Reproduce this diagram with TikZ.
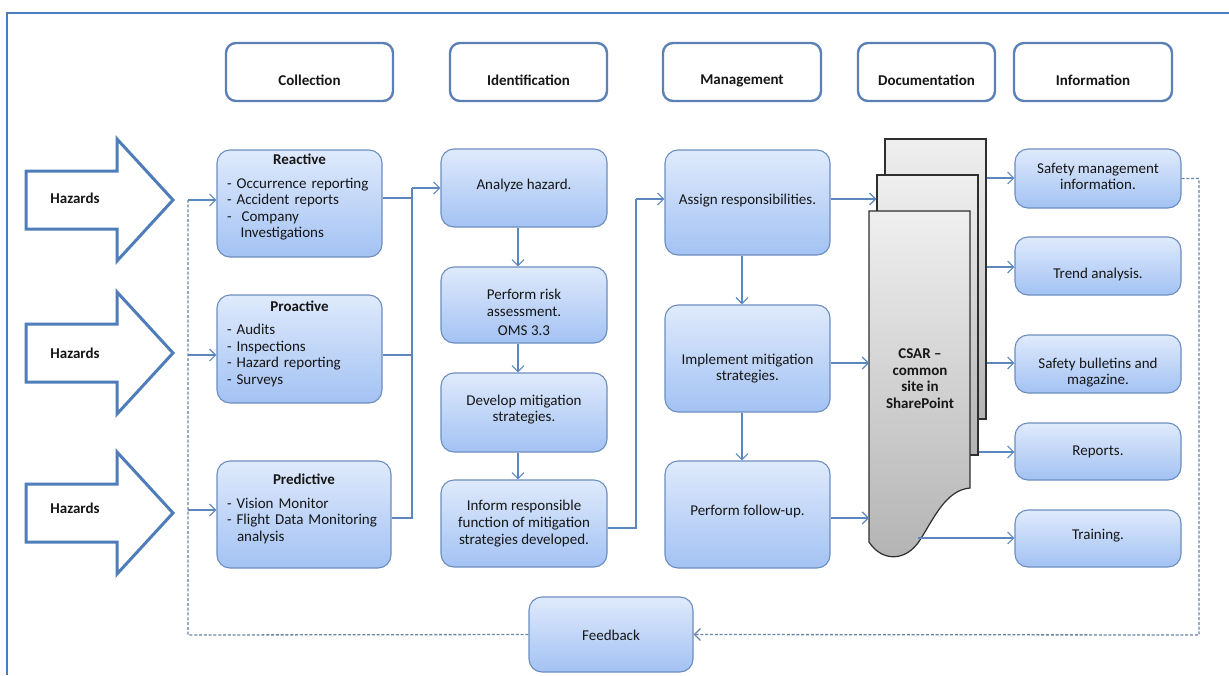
\documentclass[tikz,border=0pt]{standalone}
\usepackage{fontspec}
\setmainfont{Carlito}
\usetikzlibrary{arrows.meta}
\definecolor{framec}{HTML}{4A7CC0}
\definecolor{hdrblue}{HTML}{5A80B5}
\definecolor{arrblue}{HTML}{4E7DBA}
\definecolor{boxedge}{HTML}{6C8EBF}
\definecolor{boxtop}{HTML}{DFEAFC}
\definecolor{boxbot}{HTML}{A3C2F3}
\definecolor{connc}{HTML}{5B87BE}
\definecolor{dashc}{HTML}{6E84A3}
\definecolor{docedge}{HTML}{2E2E2E}
\definecolor{doctop}{HTML}{EFEFEF}
\definecolor{docbot}{HTML}{B3B3B3}
\definecolor{txt}{HTML}{161616}
\begin{document}
\begin{tikzpicture}[x=1pt,y=-1pt,
  fnt/.style={font=\fontsize{15}{16.6}\selectfont},
  bfnt/.style={font=\fontsize{15}{16.6}\selectfont\bfseries},
  hdr/.style={draw=hdrblue, line width=2.4pt, rounded corners=10pt, fill=white, inner sep=0pt, minimum height=58pt},
  bluebox/.style={draw=boxedge, line width=1.1pt, rounded corners=13pt, top color=boxtop, bottom color=boxbot, inner sep=0pt},
  txtnode/.style={fnt, text=txt, align=center, inner sep=0pt},
  btxt/.style={bfnt, text=txt, align=center, inner sep=0pt},
  hazard/.style={draw=arrblue, line width=3pt, fill=white, line join=miter},
  docsheet/.style={draw=docedge, line width=1.2pt, top color=doctop, bottom color=docbot, inner sep=0pt},
  conn/.style={draw=connc, line width=1.2pt},
  arr/.style={conn, -{Straight Barb[length=6pt,width=12pt]}},
  fb/.style={draw=dashc, line width=1.3pt, dash pattern=on 3pt off 1.8pt},
]
\useasboundingbox (0,0) rectangle (1229,675);
\fill[white] (0,0) rectangle (1229,675);
% frame
\draw[framec, line width=2pt] (7,675) -- (7,13) -- (1229,13);

% headers
\node[hdr, minimum width=167pt] (hcol) at (309.5,72) {};
\node[hdr, minimum width=157pt] (hide) at (528.5,72) {};
\node[hdr, minimum width=158pt] (hman) at (742,72) {};
\node[hdr, minimum width=137pt] (hdoc) at (926.5,72) {};
\node[hdr, minimum width=158pt] (hinf) at (1093,72) {};
\node[btxt] (hcol-t) at (309.5,80.5) {Collection};
\node[btxt] (hide-t) at (528.5,80.5) {Identification};
\node[btxt] (hman-t) at (742,80.5) {Management};
\node[btxt] (hdoc-t) at (926.5,80.5) {Documentation};
\node[btxt] (hinf-t) at (1093,80.5) {Information};

% hazard arrows
\draw[hazard] (26,171) -- (117,171) -- (117,139) -- (173,200) -- (117,261) -- (117,229) -- (26,229) -- cycle;
\draw[hazard] (26,324) -- (117,324) -- (117,292) -- (173,353) -- (117,414) -- (117,382) -- (26,382) -- cycle;
\draw[hazard] (26,484) -- (117,484) -- (117,452) -- (173,513) -- (117,574) -- (117,542) -- (26,542) -- cycle;
\node[btxt] (hz1) at (75,198.5) {Hazards};
\node[btxt] (hz2) at (75,353.5) {Hazards};
\node[btxt] (hz3) at (75,508.5) {Hazards};

% collection boxes
\node[bluebox, minimum width=165pt, minimum height=107pt] (reactive) at (299.5,203.5) {};
\node[bluebox, minimum width=165pt, minimum height=108pt] (proactive) at (299.5,349) {};
\node[bluebox, minimum width=174pt, minimum height=107pt] (predictive) at (304,514.5) {};
\node[txtnode, text width=145pt, align=left] (reactive-t) at (299.5,197.3)
  {\makebox[145pt]{\textbf{Reactive}}\\[7pt]- Occurrence reporting\\- Accident reports\\-\ \ Company\\\hspace*{13.5pt}Investigations};
\node[txtnode, text width=145pt, align=left] (proactive-t) at (299.5,343.8)
  {\makebox[145pt]{\textbf{Proactive}}\\[7pt]- Audits\\- Inspections\\- Hazard reporting\\- Surveys};
\node[txtnode, text width=154pt, align=left] (predictive-t) at (304,508.8)
  {\makebox[154pt]{\textbf{Predictive}}\\[7pt]- Vision Monitor\\- Flight Data Monitoring\\\hspace*{10pt}analysis};

% identification boxes
\node[bluebox, minimum width=166pt, minimum height=78pt] (analyze) at (524,188) {};
\node[bluebox, minimum width=166pt, minimum height=76pt] (risk) at (524,305) {};
\node[bluebox, minimum width=166pt, minimum height=79pt] (develop) at (524,412.5) {};
\node[bluebox, minimum width=166pt, minimum height=87pt] (inform) at (524,523.5) {};
\node[txtnode] (analyze-t) at (524,185.5) {Analyze hazard.};
\node[txtnode] (risk-t) at (524,312.5) {Perform risk\\assessment.\\[3pt]OMS 3.3};
\node[txtnode] (develop-t) at (524,409.5) {Develop mitigation\\strategies.};
\node[txtnode] (inform-t) at (524,523.5) {Inform responsible\\function of mitigation\\strategies developed.};

% management boxes
\node[bluebox, minimum width=165pt, minimum height=105pt] (assign) at (747.5,202.5) {};
\node[bluebox, minimum width=165pt, minimum height=107pt] (implement) at (747.5,358.5) {};
\node[bluebox, minimum width=165pt, minimum height=107pt] (followup) at (747.5,514.5) {};
\node[txtnode] (assign-t) at (747.5,200.5) {Assign responsibilities.};
\node[txtnode] (implement-t) at (747.5,368.5) {Implement mitigation\\strategies.};
\node[txtnode] (followup-t) at (747.5,511) {Perform follow-up.};

% information boxes
\node[bluebox, minimum width=166pt, minimum height=59pt] (info1) at (1098,178.5) {};
\node[bluebox, minimum width=166pt, minimum height=58pt] (info2) at (1098,266) {};
\node[bluebox, minimum width=166pt, minimum height=58pt] (info3) at (1098,364) {};
\node[bluebox, minimum width=166pt, minimum height=57pt] (info4) at (1098,451.5) {};
\node[bluebox, minimum width=166pt, minimum height=57pt] (info5) at (1098,538.5) {};
\node[txtnode] (info1-t) at (1098,176.5) {Safety management\\information.};
\node[txtnode] (info2-t) at (1098,274.5) {Trend analysis.};
\node[txtnode] (info3-t) at (1098,372.5) {Safety bulletins and\\magazine.};
\node[txtnode] (info4-t) at (1098,451.5) {Reports.};
\node[txtnode] (info5-t) at (1098,535.5) {Training.};

% feedback
\node[bluebox, minimum width=164pt, minimum height=75pt] (feedback) at (611,634.5) {};
\node[txtnode] (feedback-t) at (611,635.5) {Feedback};

% documents
\node[docsheet, minimum width=101pt, minimum height=280pt] (doc1) at (935.5,279) {};
\node[docsheet, minimum width=101pt, minimum height=280pt] (doc2) at (927.5,315) {};
\path[docsheet] (869,211) -- (970,211) -- (970,488)
  .. controls (946,490) and (934,518) .. (920,540)
  .. controls (906,562) and (882,562) .. (869,542) -- cycle;
\node[btxt] (csar) at (920,378.5) {CSAR --\\common\\site in\\SharePoint};
\coordinate (fl1) at (869,363);
\coordinate (fl2) at (869,518);
\coordinate (fw) at (918,538);

% collection -> identification
\coordinate (busT) at (412,188);
\draw[conn] (reactive.east |- 0,198) -| (busT);
\draw[conn] (proactive.east |- 0,355) -| (busT);
\draw[conn] (predictive.east |- 0,518) -| (busT);
\draw[arr] (busT) -- (analyze.west);
% identification chain
\draw[arr] ([xshift=-6pt]analyze.south) -- ([xshift=-6pt]risk.north);
\draw[arr] ([xshift=-6pt]risk.south) -- ([xshift=-6pt]develop.north);
\draw[arr] ([xshift=-6pt]develop.south) -- ([xshift=-6pt]inform.north);
% identification -> management
\coordinate (j2) at (636,199);
\draw[conn] (inform.east |- 0,528) -| (j2);
\draw[arr] (j2) -- (assign.west |- j2);
\draw[arr] ([xshift=-5.5pt]assign.south) -- ([xshift=-5.5pt]implement.north);
\draw[arr] ([xshift=-5.5pt]implement.south) -- ([xshift=-5.5pt]followup.north);
% management -> documentation
\draw[arr] (assign.east |- 0,199) -- (doc2.west |- 0,199);
\draw[arr] (implement.east |- 0,363) -- (fl1);
\draw[arr] (followup.east |- 0,518) -- (fl2);
% documentation -> information
\draw[arr] (doc1.east |- 0,178) -- (info1.west |- 0,178);
\draw[arr] (doc1.east |- 0,267) -- (info2.west |- 0,267);
\draw[arr] (doc1.east |- 0,363) -- (info3.west |- 0,363);
\draw[arr] (doc2.east |- 0,452) -- (info4.west |- 0,452);
\draw[arr] (fw) -- (info5.west |- 0,538);

% feedback loop
\coordinate (fbR) at (1199,635);
\coordinate (fbL) at (188,635);
\coordinate (fbT) at (188,200);
\coordinate (fbM) at (188,355);
\coordinate (fbP) at (188,510);
\draw[fb, -{Straight Barb[length=6pt,width=12pt]}] (info1.east) -| (fbR) -- (feedback.east);
\draw[fb] (feedback.west) -- (fbL) -- (fbT);
\draw[arr] (fbT) -- (reactive.west |- fbT);
\draw[arr] (fbM) -- (proactive.west |- fbM);
\draw[arr] (fbP) -- (predictive.west |- fbP);
\end{tikzpicture}
\end{document}
